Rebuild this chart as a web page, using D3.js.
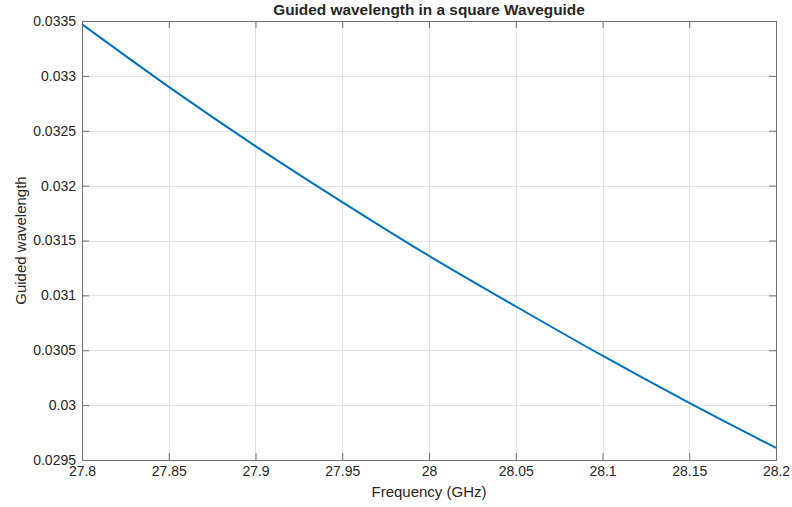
<!doctype html>
<html lang="en">
<head>
<meta charset="utf-8">
<script src="https://d3js.org/d3.v7.min.js"></script>
<style>
  body { margin: 0; background: #fff; }
  text { font-family: "Liberation Sans", Arial, sans-serif; fill: #262626; }
</style>
<title>Guided wavelength</title>
</head>
<body>
<div id="chart"></div>
<script>
// frequency samples (GHz) and guided wavelength
var freqs = [27.8, 27.85, 27.9, 27.95, 28.0, 28.05, 28.1, 28.15, 28.2];
var wavelengths = [0.03347, 0.03290, 0.03236, 0.03185, 0.03136, 0.03090, 0.03045, 0.03002, 0.02961];

var xTicks = [27.8, 27.85, 27.9, 27.95, 28, 28.05, 28.1, 28.15, 28.2];
var yTicks = [0.0295, 0.03, 0.0305, 0.031, 0.0315, 0.032, 0.0325, 0.033, 0.0335];

var W = 792, H = 507;
var margin = {top: 21, right: 16, bottom: 47, left: 82};
var width = W - margin.left - margin.right,
    height = H - margin.top - margin.bottom;

var svg = d3.select("#chart").append("svg")
    .attr("width", W)
    .attr("height", H);

var g = svg.append("g")
    .attr("transform", "translate(" + margin.left + "," + margin.top + ")");

var x = d3.scaleLinear().domain([27.8, 28.2]).range([0, width]);
var y = d3.scaleLinear().domain([0.0295, 0.0335]).range([height, 0]);

// grid
g.append("g").selectAll("line.vx")
  .data(xTicks).enter().append("line")
    .attr("x1", function(d) { return Math.round(x(d)) + 0.5; })
    .attr("x2", function(d) { return Math.round(x(d)) + 0.5; })
    .attr("y1", 0).attr("y2", height)
    .attr("stroke", "#e3e3e3");
g.append("g").selectAll("line.hy")
  .data(yTicks).enter().append("line")
    .attr("y1", function(d) { return Math.round(y(d)) + 0.5; })
    .attr("y2", function(d) { return Math.round(y(d)) + 0.5; })
    .attr("x1", 0).attr("x2", width)
    .attr("stroke", "#e3e3e3");

// data line
var line = d3.line()
  .x(function(d, i) { return x(freqs[i]); })
  .y(function(d) { return y(d); })
  .curve(d3.curveMonotoneX);

g.append("path")
  .datum(wavelengths)
  .attr("fill", "none")
  .attr("stroke", "#0072BD")
  .attr("stroke-width", 2)
  .attr("d", line);

// axes (ticks inside, box on)
var axisColor = "#707070";
function styleAxis(sel) {
  sel.select(".domain").remove();
  sel.selectAll(".tick line").attr("stroke", axisColor);
  sel.selectAll(".tick text").style("font-size", "14px").attr("fill", "#262626");
}

var xFmt = function(d) { return d3.format("")(+d.toFixed(2)); };
var yFmt = function(d) { return d3.format("")(+d.toFixed(4)); };

g.append("g")
  .attr("transform", "translate(0," + height + ")")
  .call(d3.axisBottom(x).tickValues(xTicks).tickFormat(xFmt).tickSizeInner(-7).tickPadding(6))
  .call(styleAxis);

g.append("g")
  .call(d3.axisTop(x).tickValues(xTicks).tickFormat("").tickSizeInner(-7))
  .call(styleAxis);

g.append("g")
  .call(d3.axisLeft(y).tickValues(yTicks).tickFormat(yFmt).tickSizeInner(-7).tickPadding(6))
  .call(styleAxis);

g.append("g")
  .attr("transform", "translate(" + width + ",0)")
  .call(d3.axisRight(y).tickValues(yTicks).tickFormat("").tickSizeInner(-7))
  .call(styleAxis);

g.append("rect")
  .attr("x", 0.5).attr("y", 0.5)
  .attr("width", width).attr("height", height)
  .attr("fill", "none")
  .attr("stroke", axisColor)
  .attr("stroke-width", 1);

// title and labels
svg.append("text")
  .attr("x", margin.left + width / 2)
  .attr("y", 15)
  .attr("text-anchor", "middle")
  .style("font-size", "15.4px")
  .style("font-weight", "bold")
  .attr("fill", "#000")
  .text("Guided wavelength in a square Waveguide");

svg.append("text")
  .attr("x", margin.left + width / 2)
  .attr("y", 497)
  .attr("text-anchor", "middle")
  .style("font-size", "15px")
  .text("Frequency (GHz)");

svg.append("text")
  .attr("transform", "translate(26," + (margin.top + height / 2) + ") rotate(-90)")
  .attr("text-anchor", "middle")
  .style("font-size", "15px")
  .text("Guided wavelength");
</script>
</body>
</html>
